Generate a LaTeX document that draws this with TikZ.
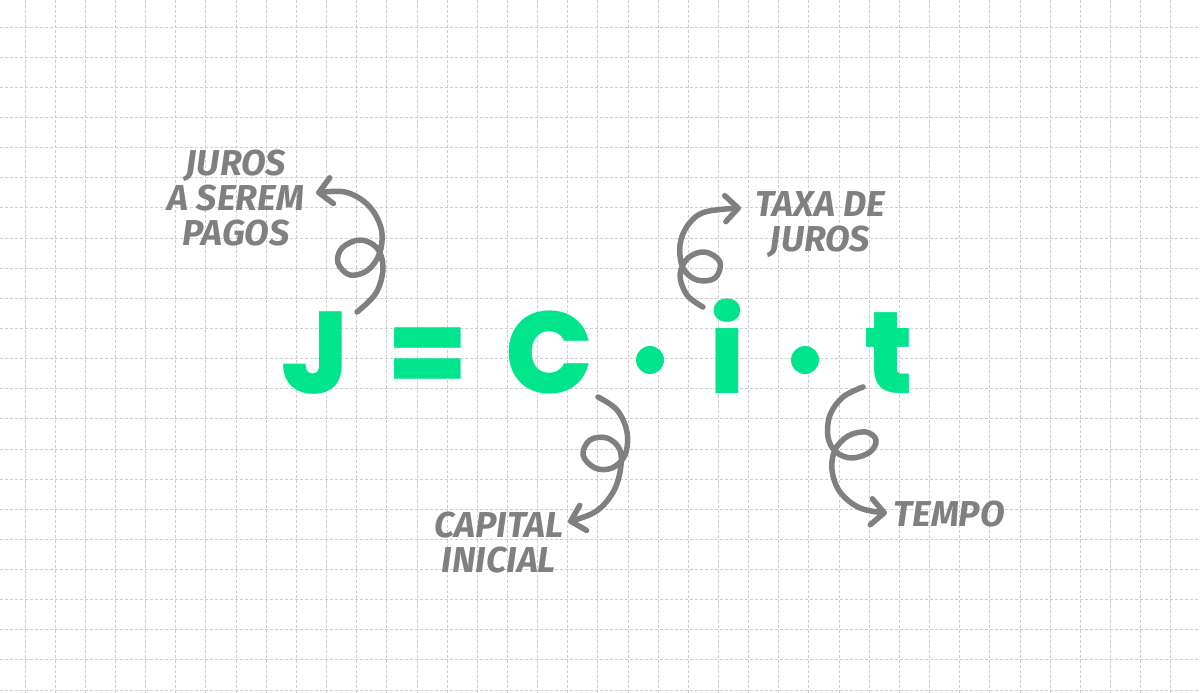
\documentclass[tikz,border=0pt]{standalone}
\usepackage{fontspec}
\newfontfamily\formulafont{Poppins}[BoldFont={Poppins ExtraBold}]
\newfontfamily\labelfont{Fira Sans}
\usetikzlibrary{arrows.meta}
\definecolor{eqgreen}{RGB}{0,228,140}
\definecolor{inkgray}{RGB}{128,128,128}
\definecolor{gridgray}{RGB}{205,205,205}
\begin{document}
\begin{tikzpicture}[x=1pt,y=-1pt,
  gridline/.style={gridgray, line width=0.9pt, dash pattern=on 3pt off 2pt},
  glyph/.style={inner sep=0pt, anchor=base, text=eqgreen, font=\formulafont\bfseries\fontsize{116}{116}\selectfont},
  multdot/.style={circle, fill=eqgreen, inner sep=0pt, minimum size=28pt},
  notelabel/.style={inner sep=0pt, align=center, text=inkgray, font=\labelfont\bfseries\itshape\fontsize{36}{35}\selectfont},
  curly/.style={inkgray, line width=5.5pt, line cap=round, line join=round, -{Straight Barb[length=13pt,width=26pt,round]}}]
\useasboundingbox[fill=white] (0,0) rectangle (1200,693);
% grid
\foreach \k in {0,...,38} \draw[gridline] ({25+30.15*\k},0) -- ({25+30.15*\k},693);
\foreach \k in {0,...,22} \draw[gridline] (0,{27+30.14*\k}) -- (1200,{27+30.14*\k});
% formula
\node[glyph] (J) at (315,393) {J};
\node[glyph] (eq) at (428,393) {=};
\node[glyph] (C) at (549,393) {C};
\node[multdot] (dot1) at (650,360) {};
\node[glyph] (i) at (727,393) {i};
\node[multdot] (dot2) at (805,360) {};
\node[glyph] (t) at (889,393) {t};
% labels
\node[notelabel] (ljuros) at (236,198.5) {JUROS\\A SEREM\\PAGOS};
\node[notelabel] (ltaxa) at (820,225) {TAXA DE\\JUROS};
\node[notelabel] (lcap) at (499,542.5) {CAPITAL\\INICIAL};
\node[notelabel] (ltempo) at (949,514.5) {TEMPO};
% arrow ends
\coordinate (a1s) at (357,312);
\coordinate (a1e) at (316,193);
\coordinate (a2s) at (598,397);
\coordinate (a2e) at (568,522);
\coordinate (a3s) at (703,307);
\coordinate (a3e) at (741,208);
\coordinate (a4s) at (863,387);
\coordinate (a4e) at (887,513);
% curly arrows
\draw[curly] plot[smooth, tension=0.6] coordinates {(a1s) (376,293) (383,268) (377,248) (360,240) (342,248) (338,263) (350,275) (368,270) (380,252) (381,228) (368,205) (345,192) (a1e)};
\draw[curly] plot[smooth, tension=0.6] coordinates {(a2s) (617,410) (627,432) (625,455) (612,468) (595,468) (583,455) (590,440) (607,438) (620,450) (620,472) (612,494) (595,512) (a2e)};
\draw[curly] plot[smooth, tension=0.6] coordinates {(a3s) (687,295) (680,275) (688,258) (705,252) (720,262) (715,278) (697,280) (683,268) (680,245) (688,225) (705,212) (a3e)};
\draw[curly] plot[smooth, tension=0.6] coordinates {(a4s) (843,397) (830,415) (828,437) (836,452) (852,458) (870,452) (876,440) (866,432) (848,436) (835,450) (832,470) (840,492) (860,508) (a4e)};
\end{tikzpicture}
\end{document}
